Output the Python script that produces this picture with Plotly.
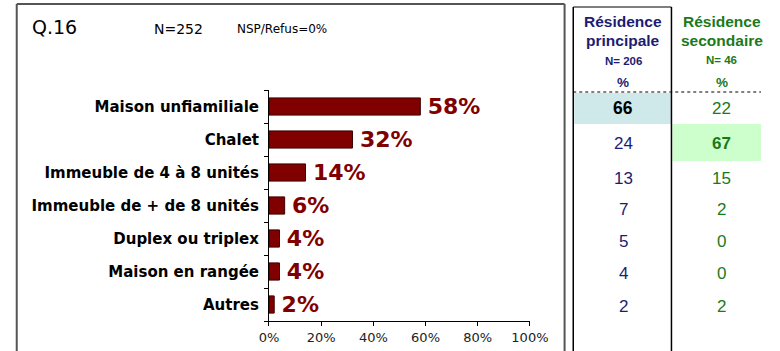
import plotly.graph_objects as go

W, H = 780, 351

# Survey data
categories = ["Maison unfiamiliale", "Chalet", "Immeuble de 4 à 8 unités",
              "Immeuble de + de 8 unités", "Duplex ou triplex",
              "Maison en rangée", "Autres"]
total_pct = [58, 32, 14, 6, 4, 4, 2]
principale = [66, 24, 13, 7, 5, 4, 2]
secondaire = [22, 67, 15, 2, 0, 0, 2]
x_ticks = [0, 20, 40, 60, 80, 100]

RED = "#800000"
NAVY = "#1C1C72"
GREEN = "#1A7A1A"
FONT = "DejaVu Sans, Verdana, sans-serif"
FONT2 = "Liberation Sans, Arial, sans-serif"


def px(x):
    return x / W


def py(y):
    return 1 - y / H


fig = go.Figure()
fig.add_trace(go.Bar(
    y=categories, x=total_pct, orientation="h",
    marker=dict(color=RED, line=dict(color="#3a0000", width=1)),
    textposition="outside",
    textfont=dict(family=FONT, size=22, color=RED),
    texttemplate="<b>\u2009%{x}%</b>", cliponaxis=False,
))

fig.update_layout(
    width=W, height=H, margin=dict(l=0, r=0, t=0, b=0),
    paper_bgcolor="white", plot_bgcolor="white", showlegend=False,
    bargap=0.48, font=dict(family=FONT),
    uniformtext=dict(minsize=22, mode="show"),
    xaxis=dict(domain=[px(269), px(540)], range=[0, 100],
               tickvals=x_ticks, ticktext=[f"{v}%" for v in x_ticks],
               showgrid=False, zeroline=False, showline=True,
               linecolor="black", linewidth=1, ticks="outside",
               ticklen=4, tickcolor="black",
               tickfont=dict(family=FONT, size=13, color="#222")),
    yaxis=dict(domain=[py(321), py(90)], autorange="reversed",
               categoryorder="array", categoryarray=categories,
               showgrid=False, showline=True, linecolor="black",
               linewidth=1, ticks="outside", ticklen=4,
               tickson="boundaries", tickcolor="black",
               ticklabelstandoff=6,
               tickfont=dict(family=FONT, size=15, color="black"),
               tickvals=categories,
               ticktext=[f"<b>{c}</b>" for c in categories]),
)

shapes = []
# Frame of the chart panel
frame = dict(color="#555", width=2)
shapes.append(dict(type="line", xref="paper", yref="paper",
                   x0=px(7), x1=px(7), y0=py(4), y1=py(351), line=frame))
shapes.append(dict(type="line", xref="paper", yref="paper",
                   x0=px(7), x1=px(576), y0=py(4), y1=py(4), line=frame))
shapes.append(dict(type="line", xref="paper", yref="paper",
                   x0=px(576), x1=px(576), y0=py(4), y1=py(351), line=frame))

# Table highlights
shapes.append(dict(type="rect", xref="paper", yref="paper",
                   x0=px(586), x1=px(687), y0=py(93), y1=py(124),
                   fillcolor="#CFE8EA", line=dict(width=0), layer="below"))
shapes.append(dict(type="rect", xref="paper", yref="paper",
                   x0=px(688), x1=px(780), y0=py(124), y1=py(161),
                   fillcolor="#CCFFCC", line=dict(width=0), layer="below"))
# Table lines
shapes.append(dict(type="line", xref="paper", yref="paper",
                   x0=px(585), x1=px(687), y0=py(7), y1=py(7),
                   line=dict(color="black", width=1)))
shapes.append(dict(type="line", xref="paper", yref="paper",
                   x0=px(585), x1=px(585), y0=py(7), y1=py(351),
                   line=dict(color="black", width=1.5)))
shapes.append(dict(type="line", xref="paper", yref="paper",
                   x0=px(687), x1=px(687), y0=py(7), y1=py(351),
                   line=dict(color="black", width=1.5)))
shapes.append(dict(type="line", xref="paper", yref="paper",
                   x0=px(585), x1=px(780), y0=py(92), y1=py(92),
                   line=dict(color="black", width=1, dash="dot")))
fig.update_layout(shapes=shapes)

ann = []


def text(x, y, s, size, color="black", xanchor="center", bold=False,
         family=FONT):
    ann.append(dict(x=px(x), y=py(y), xref="paper", yref="paper",
                    text=f"<b>{s}</b>" if bold else s, showarrow=False,
                    xanchor=xanchor, yanchor="middle", borderpad=0,
                    font=dict(family=family, size=size, color=color)))


text(22, 27, "Q.16", 19, xanchor="left")
text(149, 29, "N=252", 14, xanchor="left")
text(235, 29, "NSP/Refus=0%", 12, xanchor="left")

# Table headers
text(637, 21, "Résidence", 15.5, NAVY, bold=True, family=FONT2)
text(637, 41, "principale", 15.5, NAVY, bold=True, family=FONT2)
text(637, 61, "N= 206", 11.5, NAVY, bold=True, family=FONT2)
text(637, 82, "%", 13.5, NAVY, bold=True, family=FONT2)
text(739, 21, "Résidence", 15.5, GREEN, bold=True, family=FONT2)
text(739, 41, "secondaire", 15.5, GREEN, bold=True, family=FONT2)
text(739, 60, "N= 46", 11.5, GREEN, bold=True, family=FONT2)
text(739, 82, "%", 13.5, GREEN, bold=True, family=FONT2)

row_y = [108, 143, 178, 209, 241, 273, 306]
for i, (a, b) in enumerate(zip(principale, secondaire)):
    if i == 0:
        text(637, row_y[i], str(a), 17.5, "black", bold=True, family=FONT2)
    else:
        text(637, row_y[i], str(a), 17, NAVY, family=FONT2)
    if i == 1:
        text(739, row_y[i], str(b), 17, GREEN, bold=True, family=FONT2)
    else:
        text(739, row_y[i], str(b), 17, GREEN, family=FONT2)

fig.update_layout(annotations=ann)
fig.write_html("out.html")
